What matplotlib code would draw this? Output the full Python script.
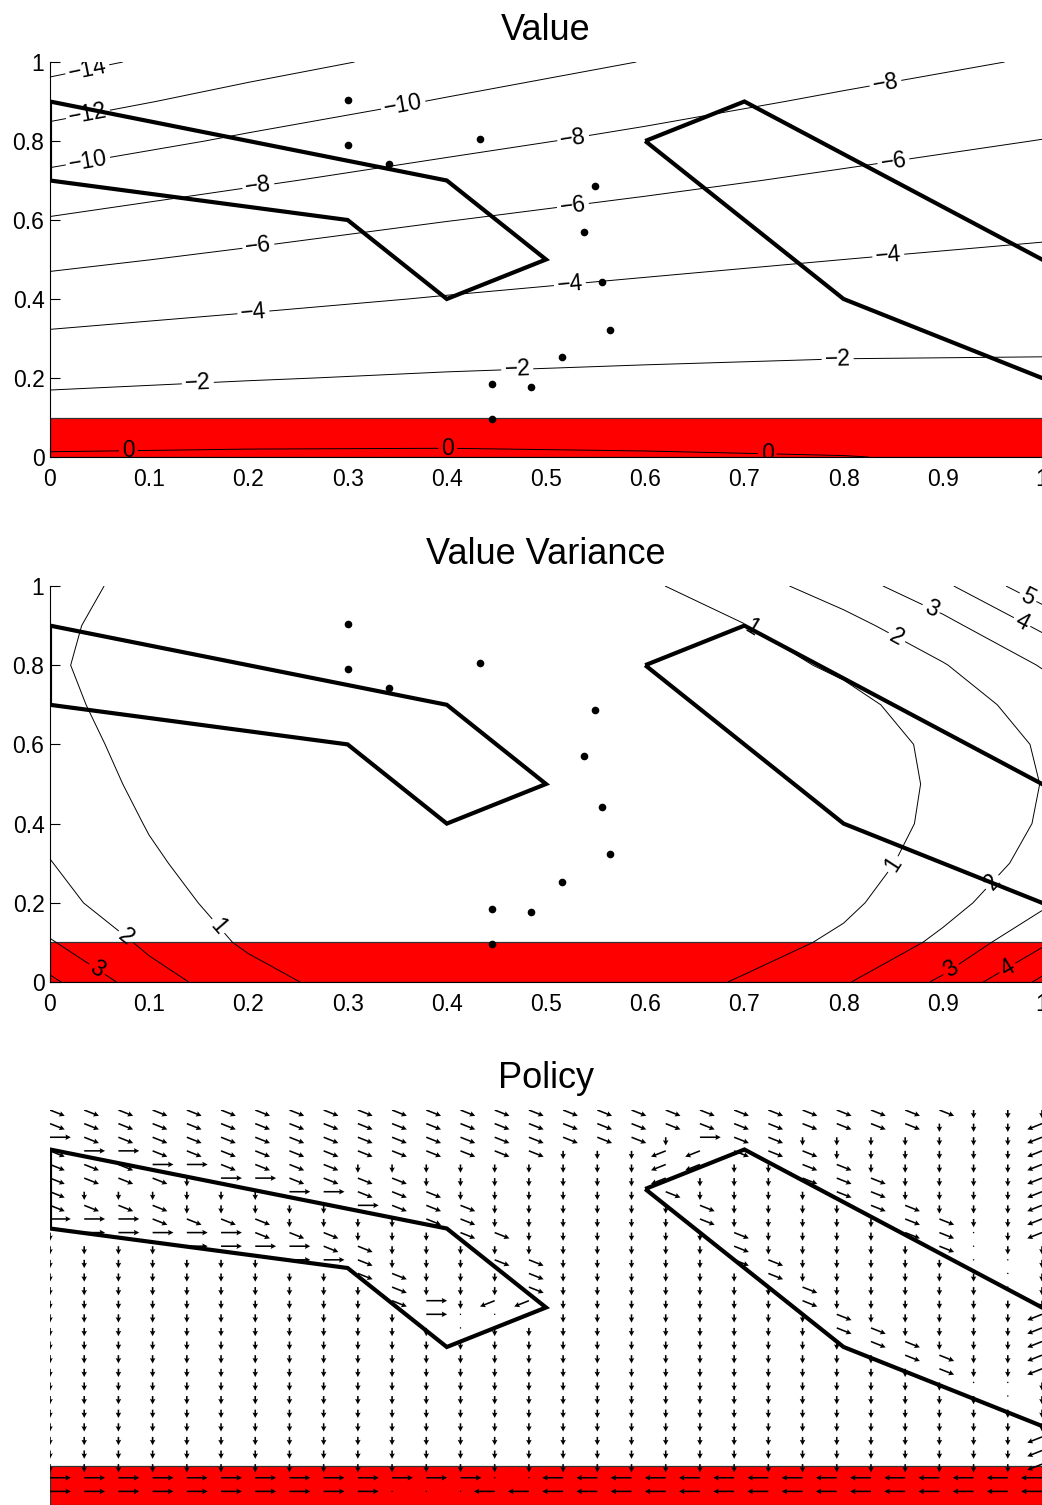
import numpy as np
import matplotlib
matplotlib.use("Agg")
import matplotlib.pyplot as plt
from matplotlib.patches import Rectangle, Polygon
from matplotlib.ticker import FuncFormatter, MultipleLocator

plt.rcParams['font.family'] = ['Liberation Sans', 'DejaVu Sans']

# ---------------------------------------------------------------- data
# obstacles (polygon vertices in state space)
obstacle_a = [(0.0, 0.9), (0.4, 0.7), (0.5, 0.5), (0.4, 0.4), (0.3, 0.6), (0.0, 0.7)]
obstacle_b = [(0.6, 0.8), (0.7, 0.9), (1.1, 0.3667), (1.1, 0.1), (0.8, 0.4)]

# hazard strip along the bottom
hazard_y = (0.0, 0.1)

# sampled states
sample_x = [0.300, 0.300, 0.342, 0.433, 0.549, 0.538, 0.556, 0.565, 0.516, 0.446, 0.485, 0.446]
sample_y = [0.904, 0.790, 0.742, 0.805, 0.686, 0.570, 0.443, 0.322, 0.253, 0.185, 0.177, 0.096]

# value estimate on a coarse grid (rows: y, columns: x)
value_x = [0.0, 0.2, 0.4, 0.6, 0.8, 1.0]
value_y = [0.0, 0.1, 0.2, 0.3, 0.4, 0.5, 0.6, 0.7, 0.8, 0.9, 1.0]
value_grid = [
    [0.17, 0.23, 0.23, 0.14, 0.03, -0.21],
    [-1.11, -0.92, -0.81, -0.78, -0.79, -0.92],
    [-2.39, -2.08, -1.84, -1.70, -1.61, -1.63],
    [-3.69, -3.24, -2.87, -2.60, -2.41, -2.32],
    [-5.03, -4.41, -3.90, -3.49, -3.21, -3.00],
    [-6.42, -5.61, -4.96, -4.42, -4.00, -3.68],
    [-7.86, -6.90, -6.04, -5.38, -4.85, -4.41],
    [-9.45, -8.24, -7.26, -6.41, -5.71, -5.19],
    [-11.14, -9.68, -8.53, -7.56, -6.67, -5.96],
    [-12.89, -11.22, -9.84, -8.74, -7.69, -6.88],
    [-14.68, -12.83, -11.28, -9.94, -8.82, -7.81],
]
value_levels = [-14, -12, -10, -8, -6, -4, -2, 0]
value_label_pos = [
    (0.038, 0.977), (0.038, 0.871), (0.038, 0.752), (0.356, 0.891),
    (0.21, 0.686), (0.527, 0.813), (0.842, 0.949),
    (0.21, 0.534), (0.527, 0.638), (0.85, 0.752),
    (0.205, 0.367), (0.524, 0.44), (0.845, 0.511),
    (0.149, 0.187), (0.471, 0.223), (0.794, 0.248),
    (0.079, 0.018), (0.401, 0.023), (0.723, 0.010),
]

# value variance on a grid (rows: y, columns: x)
var_x = [0.0, 0.1, 0.2, 0.3, 0.4, 0.5, 0.6, 0.7, 0.8, 0.9, 1.0]
var_y = [0.0, 0.1, 0.2, 0.3, 0.4, 0.5, 0.6, 0.7, 0.8, 0.9, 1.0]
var_grid = [
    [4.20, 2.41, 1.38, 0.65, 0.45, 0.40, 0.55, 1.09, 1.90, 3.17, 5.20],
    [3.08, 1.79, 0.85, 0.55, 0.38, 0.33, 0.40, 0.62, 1.17, 2.21, 3.82],
    [2.31, 1.39, 0.60, 0.42, 0.30, 0.26, 0.30, 0.45, 0.82, 1.65, 2.80],
    [2.03, 1.12, 0.50, 0.33, 0.25, 0.22, 0.25, 0.35, 0.60, 1.38, 2.30],
    [1.75, 0.95, 0.50, 0.30, 0.22, 0.20, 0.22, 0.30, 0.50, 1.20, 2.09],
    [1.55, 0.80, 0.45, 0.28, 0.20, 0.18, 0.20, 0.28, 0.48, 1.15, 2.02],
    [1.35, 0.72, 0.42, 0.27, 0.20, 0.18, 0.20, 0.30, 0.52, 1.20, 2.11],
    [1.20, 0.65, 0.40, 0.27, 0.21, 0.20, 0.24, 0.38, 0.70, 1.50, 2.41],
    [1.10, 0.62, 0.40, 0.28, 0.23, 0.24, 0.32, 0.60, 1.18, 1.94, 3.06],
    [1.15, 0.68, 0.45, 0.33, 0.28, 0.32, 0.50, 0.97, 1.68, 2.68, 4.20],
    [1.30, 0.75, 0.52, 0.40, 0.37, 0.45, 0.85, 1.60, 2.48, 3.79, 5.69],
]
var_levels = [1, 2, 3, 4, 5]
var_label_pos = [
    (0.165, 0.131), (0.709, 0.898), (0.854, 0.29),
    (0.074, 0.106), (0.857, 0.886), (0.955, 0.24),
    (0.045, 0.023), (0.89, 0.952), (0.91, 0.025),
    (0.981, 0.914), (0.968, 0.023),
    (0.986, 0.972),
]

# greedy policy on a 30 x 30 grid, top row first (y = 29/29 ... 1/29)
# E: down-right, D: down, R: right, W: down-left, L: left, '.': no move
policy_rows = [
    "EEEEEEEEEEEEEEEEEEEEEEEEEEEDDD",
    "EEEEEEEEEEEEEEEEEEEEEEEEEEDDDW",
    "REEEEEEEEEEEEEEEEEDREEDDDDDDDW",
    "ERREEEEEEEEEEEEDDDWWEEEDDDDDDW",
    "EEERREEEEDDDDDDDDDWWDDEEDDDDDW",
    "EEEEDRREEEEDDDDDDDWDDDEEEDDDDW",
    "EDDDDDDRREEEDDDDDDEDDDDEEDDDDW",
    "EEEEDDDDDREEEDDDDDDEDDDDEEDDDW",
    "RRREEEEDDDDEEDDDDDDEDDDDDEEDDW",
    "DRRRRREEEDDDEEDDDDDDEDDDDEE.DW",
    "DDDDRRRREEDDDDDDDDDDEDDDDDE.DD",
    "DDDDDDDRREDDDEEDDDDDEEDDDDD..D",
    "DDDDDDDDDEEDDDEDDDDDDEDDDDDD.D",
    "DDDDDDDDDDEDDDEDDDDDDDEDDDDD.D",
    "DDDDDDDDDDERDWWDDDDDDDEDDDDDDD",
    "DDDDDDDDDDDR...DDDDDDDDEDDDDDW",
    "DDDDDDDDDDDD.DDDDDDDDDDEEDDDDW",
    "DDDDDDDDDDDDDDDDDDDDDDDDEEDDDW",
    "DDDDDDDDDDDDDDDDDDDDDDDDDEEDDW",
    "DDDDDDDDDDDDDDDDDDDDDDDDDDEDDW",
    "DDDDDDDDDDDDDDDDDDDDDDDDDDD..D",
    "DDDDDDDDDDDDDDDDDDDDDDDDDDDD.D",
    "DDDDDDDDDDDDDDDDDDDDDDDDDDDDDD",
    "DDDDDDDDDDDDDDDDDDDDDDDDDDDDDD",
    "DDDDDDDDDDDDDDDDDDDDDDDDDDDDDW",
    "DDDDDDDDDDDDDDDDDDDDDDDDDDDDDW",
    "DDDDDDDDDDDDDDDDDDDDDDDDDDDDDW",
    "RRRRRRRRRRRRR..LLLLLLLLLLLLLLL",
    "RRRRRRRRRR...LLLLLLLLLLLLLLLLL",
]
action_dirs = {
    'E': (1.0, -1.0), 'D': (0.0, -1.0), 'R': (1.0, 0.0),
    'W': (-1.0, -1.0), 'L': (-1.0, 0.0), '.': (0.0, 0.0),
}
arrow_len = 0.021

# ---------------------------------------------------------------- figure
W, H = 1042, 1505
fig = plt.figure(figsize=(W / 100, H / 100), dpi=100)

def px_axes(left, top, right, bottom):
    return fig.add_axes([left / W, 1 - bottom / H, (right - left) / W, (bottom - top) / H])

ax1 = px_axes(50, 62, 1042, 457)
ax2 = px_axes(50, 586, 1042, 982)
ax3 = px_axes(50, 1110, 1042, 1505)

TITLE_FS = 26
TICK_FS = 16.5
LABEL_FS = 16.5
TITLE_PAD = 16

def minus_fmt(v):
    return f"{v:.0f}".replace("-", "\u2212")

def decorate_world(ax):
    ax.add_patch(Rectangle((0, hazard_y[0]), 1.2, hazard_y[1] - hazard_y[0],
                           facecolor='#ff0000', edgecolor='#333333', lw=0.9, zorder=1))
    for poly in (obstacle_a, obstacle_b):
        ax.add_patch(Polygon(poly, closed=True, fill=False, edgecolor='black',
                             lw=3.0, joinstyle='miter', zorder=4))
    ax.set_xlim(0, 1)
    ax.set_ylim(0, 1)

def style_axes(ax):
    for s in ('top', 'right'):
        ax.spines[s].set_visible(False)
    ax.spines['left'].set_linewidth(0.8)
    ax.spines['bottom'].set_linewidth(0.8)
    ax.set_axisbelow(True)
    ax.xaxis.set_major_locator(MultipleLocator(0.1))
    ax.yaxis.set_major_locator(MultipleLocator(0.2))
    fmt = FuncFormatter(lambda v, p: f"{v:g}")
    ax.xaxis.set_major_formatter(fmt)
    ax.yaxis.set_major_formatter(fmt)
    ax.tick_params(direction='in', length=7.2, width=0.8, labelsize=TICK_FS,
                   top=False, right=False)
    ax.tick_params(axis='x', pad=8)
    ax.tick_params(axis='y', pad=4)

# --- Value
decorate_world(ax1)
style_axes(ax1)
cs1 = ax1.contour(value_x, value_y, value_grid, levels=value_levels,
                  colors='black', linewidths=0.7, negative_linestyles='solid',
                  zorder=3)
ax1.clabel(cs1, manual=value_label_pos, inline=True, inline_spacing=3,
           fmt=minus_fmt, fontsize=LABEL_FS)
ax1.plot(sample_x, sample_y, 'o', color='black', ms=5.5, mew=0, zorder=5)
ax1.set_title("Value", fontsize=TITLE_FS, pad=TITLE_PAD)

# --- Value Variance
decorate_world(ax2)
style_axes(ax2)
cs2 = ax2.contour(var_x, var_y, var_grid, levels=var_levels,
                  colors='black', linewidths=0.7, zorder=3)
ax2.clabel(cs2, manual=var_label_pos, inline=True, inline_spacing=3,
           fmt=minus_fmt, fontsize=LABEL_FS)
ax2.plot(sample_x, sample_y, 'o', color='black', ms=5.5, mew=0, zorder=5)
ax2.set_title("Value Variance", fontsize=TITLE_FS, pad=TITLE_PAD)

# --- Policy
decorate_world(ax3)
ax3.set_axis_off()
n_rows = len(policy_rows)
n_cols = len(policy_rows[0])
gx, gy, gu, gv = [], [], [], []
for r, row in enumerate(policy_rows):
    k = n_rows - r
    for j, a in enumerate(row):
        dx, dy = action_dirs[a]
        norm = np.hypot(dx, dy)
        if norm > 0:
            dx, dy = dx / norm, dy / norm
        gx.append(j / (n_cols - 1))
        gy.append(k / (n_cols - 1))
        gu.append(dx * arrow_len)
        gv.append(dy * arrow_len)
ax3.quiver(gx, gy, gu, gv, angles='xy', scale_units='xy', scale=1,
           width=0.0016, headwidth=3.5, headlength=3.4, headaxislength=3.0,
           color='black', zorder=3, clip_on=True)
ax3.set_title("Policy", fontsize=TITLE_FS, pad=TITLE_PAD)

fig.savefig("out.png", dpi=100, facecolor='white')
